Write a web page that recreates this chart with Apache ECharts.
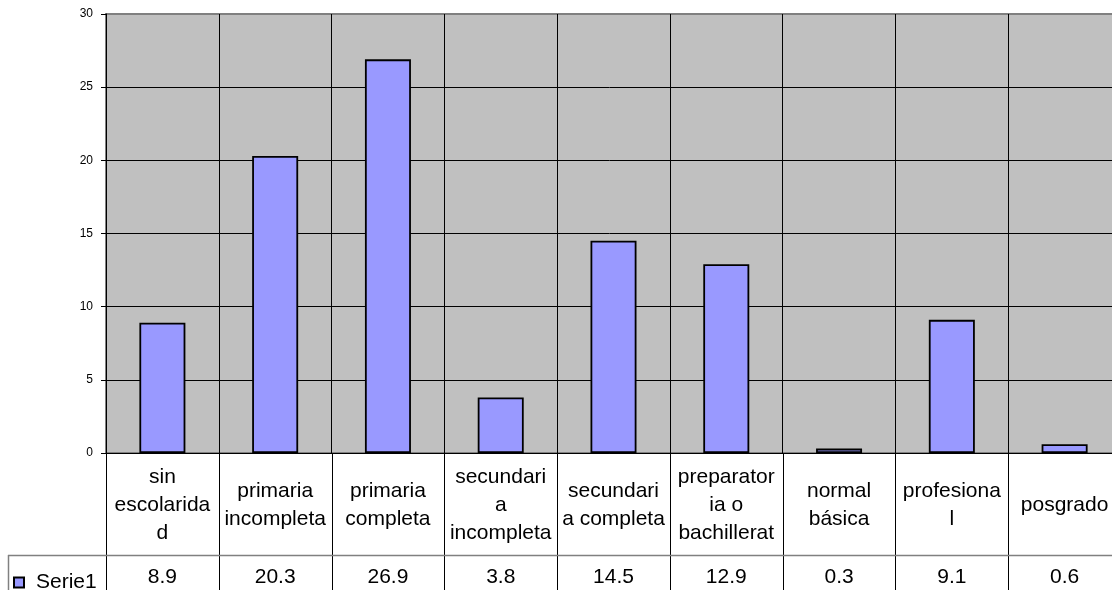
<!DOCTYPE html>
<html>
<head>
<meta charset="utf-8">
<title>Escolaridad</title>
<script src="https://cdn.jsdelivr.net/npm/echarts@6/dist/echarts.min.js"></script>
<style>
  html, body { margin: 0; padding: 0; background: #ffffff; }
  #chart { width: 1112px; height: 590px; }
</style>
</head>
<body>
<div id="chart"></div>
<script>
// Category labels, wrapped the way the data-table cells show them
const categories = [
  'sin\nescolarida\nd',
  'primaria\nincompleta',
  'primaria\ncompleta',
  'secundari\na\nincompleta',
  'secundari\na completa',
  'preparator\nia o\nbachillerat',
  'normal\nbásica',
  'profesiona\nl',
  'posgrado'
];
const seriesName = 'Serie1';
const serie1 = [8.9, 20.3, 26.9, 3.8, 14.5, 12.9, 0.3, 9.1, 0.6];
const yTicks = [0, 5, 10, 15, 20, 25, 30];

const FONT = "'Liberation Sans', Arial, sans-serif";
const chart = echarts.init(document.getElementById('chart'));

chart.setOption({
  animation: false,
  backgroundColor: '#ffffff',
  grid: {
    left: 106, top: 14, width: 1015, bottom: 137,
    outerBoundsMode: 'none',
    containLabel: false,
    show: true, backgroundColor: '#c0c0c0',
    borderColor: '#808080', borderWidth: 2
  },
  legend: {
    data: [seriesName],
    left: 8, top: 567,
    icon: 'rect', itemWidth: 10, itemHeight: 10, itemGap: 0,
    textStyle: { fontFamily: FONT, fontSize: 21, color: '#000', padding: [0, 0, 0, 7] },
    selectedMode: false
  },
  xAxis: [
    {
      type: 'category',
      data: categories,
      boundaryGap: true,
      axisLine: { show: true, lineStyle: { color: '#000', width: 1 } },
      axisTick: { show: false },
      splitLine: { show: true, interval: 0, lineStyle: { color: '#000', width: 1 } },
      axisLabel: {
        interval: 0, margin: 52, verticalAlign: 'middle',
        fontFamily: FONT, fontSize: 21, lineHeight: 28, color: '#000'
      }
    },
    {
      // value row of the data table
      type: 'category',
      data: categories,
      position: 'bottom',
      boundaryGap: true,
      axisLine: { show: false },
      axisTick: { show: false },
      splitLine: { show: false },
      axisLabel: {
        interval: 0, margin: 124, verticalAlign: 'middle',
        fontFamily: FONT, fontSize: 21, color: '#000',
        formatter: (v, i) => String(serie1[i])
      }
    }
  ],
  yAxis: {
    type: 'value',
    min: yTicks[0], max: yTicks[yTicks.length - 1], interval: 5,
    axisLine: { show: true, lineStyle: { color: '#000', width: 1 } },
    axisTick: { show: true, inside: false, length: 5, lineStyle: { color: '#000' } },
    splitLine: {
      show: true,
      lineStyle: { color: ['#000', '#000', '#000', '#000', '#000', '#000', '#808080'], width: 1 }
    },
    axisLabel: { margin: 13, fontFamily: FONT, fontSize: 12, color: '#000' }
  },
  series: [{
    name: seriesName,
    type: 'bar',
    data: serie1,
    barWidth: 46,
    itemStyle: { color: '#9999ff', borderColor: '#000', borderWidth: 1.8 }
  }]
});

// Data-table frame below the plot, aligned to the category axis
(function drawTable() {
  const c0 = chart.convertToPixel({ xAxisIndex: 0 }, 0);
  const c1 = chart.convertToPixel({ xAxisIndex: 0 }, 1);
  const step = c1 - c0;
  const yAxisBottom = chart.convertToPixel({ yAxisIndex: 0 }, 0);
  const rowLine = 555, bottom = 590, leftEdge = 8;
  const els = [];
  for (let i = 0; i <= categories.length; i++) {
    const x = Math.round(c0 - step / 2 + i * step) + 0.5;
    els.push({
      type: 'line', silent: true,
      shape: { x1: x, y1: yAxisBottom, x2: x, y2: bottom },
      style: { stroke: '#000', lineWidth: 1 }
    });
  }
  els.push({
    type: 'line', silent: true,
    shape: { x1: leftEdge, y1: rowLine + 0.5, x2: 1112, y2: rowLine + 0.5 },
    style: { stroke: '#808080', lineWidth: 1.5 }
  });
  els.push({
    type: 'line', silent: true,
    shape: { x1: leftEdge + 0.5, y1: rowLine, x2: leftEdge + 0.5, y2: bottom },
    style: { stroke: '#808080', lineWidth: 1.5 }
  });
  chart.setOption({ graphic: els });
})();
</script>
</body>
</html>
